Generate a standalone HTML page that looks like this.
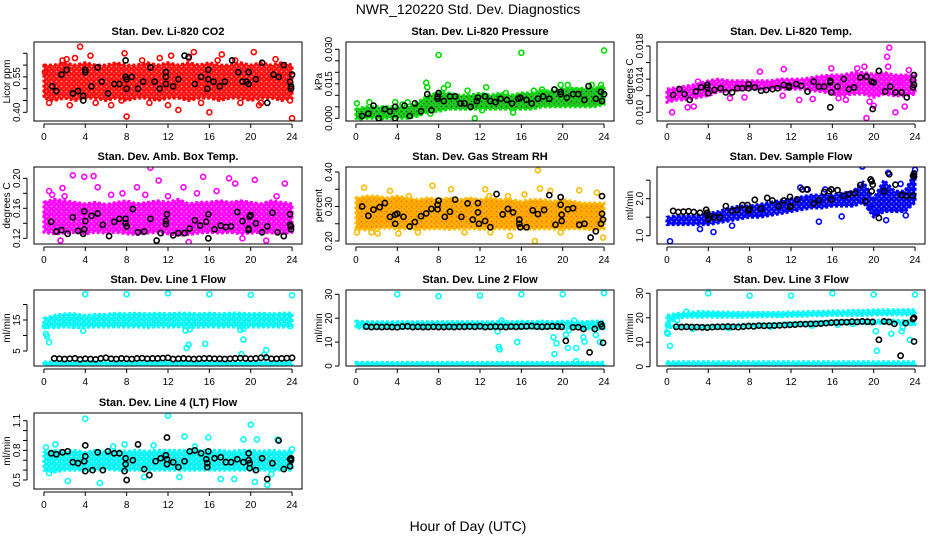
<!DOCTYPE html>
<html><head><meta charset="utf-8"><style>
body{margin:0;background:#fff;}
svg{display:block;font-family:"Liberation Sans",sans-serif;}
</style></head><body>
<svg id="chart" width="936" height="540" viewBox="0 0 936 540">
<rect x="0" y="0" width="936" height="540" fill="#fff"/>
<text x="468" y="14" text-anchor="middle" font-size="14">NWR_120220  Std. Dev. Diagnostics</text>
<text x="468" y="531" text-anchor="middle" font-size="14">Hour of Day (UTC)</text>
</svg>
<script>
const bandHours=[0,1,2,3,4,5,6,7,8,9,10,11,12,13,14,15,16,17,18,19,20,21,22,23,24];
const xTicks=[0,4,8,12,16,20,24];

// Panel 1: Li-820 CO2
const p1Lo=[0.46,0.45,0.46,0.45,0.46,0.46,0.45,0.46,0.45,0.46,0.46,0.45,0.46,0.46,0.45,0.46,0.46,0.45,0.46,0.46,0.45,0.46,0.46,0.45,0.46];
const p1Hi=[0.60,0.60,0.61,0.60,0.61,0.60,0.60,0.61,0.60,0.60,0.61,0.60,0.61,0.60,0.61,0.60,0.61,0.60,0.60,0.61,0.60,0.61,0.60,0.61,0.60];
const p1PtsX=[3.5,4.5,8,7.8,12.3,14.5,17.2,20.3,24,13,16,1.8,2.2,9.5,0.2,0.5,10.2,12,15.2,19,21,23.8,5,7.5,11.2,6.5,18.5,22.4,0.1,3,2.5,14,16.8,20.8];
const p1PtsY=[0.678,0.64,0.382,0.65,0.64,0.655,0.645,0.655,0.375,0.41,0.40,0.62,0.625,0.62,0.49,0.44,0.44,0.43,0.44,0.44,0.44,0.45,0.44,0.45,0.63,0.43,0.62,0.625,0.57,0.63,0.43,0.63,0.62,0.43];
const p1BlkX=[0.8,1.2,1.7,2.2,2.8,3.3,3.8,3.8,4,4,4.6,5.2,5.6,6.2,6.8,7.3,7.9,7.9,8,8,8.5,9.1,9.6,10.3,10.7,11.2,11.8,11.8,11.8,12.5,13,13.6,14,14.6,15.2,15.8,15.9,15.9,16.4,17,17.5,18.2,18.8,19.2,19.6,19.8,19.8,20.5,21.1,21.6,22.2,22.7,23.2,23.8,23.9,23.9,24];
const p1BlkY=[0.51,0.49,0.56,0.58,0.48,0.49,0.45,0.47,0.57,0.58,0.51,0.59,0.53,0.48,0.52,0.52,0.62,0.55,0.54,0.50,0.55,0.50,0.53,0.59,0.53,0.50,0.57,0.55,0.52,0.51,0.54,0.64,0.635,0.52,0.55,0.50,0.54,0.58,0.53,0.51,0.53,0.62,0.57,0.53,0.53,0.52,0.57,0.54,0.61,0.44,0.56,0.55,0.60,0.53,0.51,0.50,0.56];

// Panel 2: Pressure
const p2Lo=[0,0,0,0,0,0,0.001,0.003,0.003,0.004,0.004,0.004,0.004,0.004,0.004,0.004,0.004,0.004,0.005,0.005,0.005,0.005,0.005,0.005,0.006];
const p2Hi=[0.004,0.005,0.005,0.005,0.005,0.005,0.007,0.010,0.011,0.011,0.010,0.010,0.011,0.010,0.011,0.010,0.011,0.011,0.012,0.012,0.013,0.013,0.013,0.013,0.014];
const p2PtsX=[0.1,8,16,24,6.8,6.9,8.9,10.8,12.6,11.5,12.2,15.2,19.8,20.5,22.8,23.7,21.2,17.2,6.2,7.2,8.5,1.3,3.8,5,0.5,2.5,4.5,9,18,14.5];
const p2PtsY=[0.0065,0.0275,0.0285,0.0295,0.0155,0.0135,0.0145,0.012,0.0135,0,0.0035,0.0025,0.0145,0.0145,0.0145,0.0145,0.012,0.012,0.0025,0.002,0.013,0.007,0.007,0.007,0.0005,0.0005,0.006,0.009,0.0125,0.011];
const p2BlkX=[0.6,1.2,1.7,2.2,2.8,3.3,3.8,3.8,4.7,5.2,5.7,6.3,6.9,7.3,7.9,7.9,8.0,8.5,9.1,9.6,10.1,10.5,11.1,11.7,11.8,12.5,13,13.5,14,14.6,15.1,15.7,15.9,16.5,17.0,17.6,18.1,18.7,19.2,19.8,19.8,20.4,21,21.5,22.1,22.5,23.2,23.7,23.8,24];
const p2BlkY=[0.001,0.002,0.0055,0,0.004,0.003,0.005,0,0.0055,0.001,0.0065,0.003,0.0105,0.0035,0.0085,0.0095,0.011,0.0075,0.0095,0.0095,0.0065,0.0065,0.005,0.0075,0.009,0.0095,0.0075,0.007,0.0085,0.008,0.0065,0.0085,0.009,0.008,0.0065,0.0085,0.0095,0.0085,0.0125,0.0105,0.0115,0.009,0.0105,0.0105,0.008,0.014,0.0085,0.0115,0.0075,0.0105];

// Panel 3: Li-820 Temp
const p3Lo=[0.0112,0.0115,0.0115,0.0118,0.012,0.0125,0.0126,0.0127,0.0128,0.0128,0.0128,0.0128,0.0128,0.0128,0.0126,0.0125,0.0122,0.012,0.0122,0.0122,0.0118,0.0122,0.012,0.012,0.0122];
const p3Hi=[0.0128,0.013,0.0132,0.0134,0.0138,0.014,0.0138,0.0138,0.0138,0.0138,0.0138,0.014,0.014,0.014,0.0142,0.0144,0.0145,0.0145,0.0148,0.0148,0.0146,0.0148,0.0145,0.0145,0.0145];
const p3PtsX=[0.5,2,2.6,9,11.3,15.9,21.5,21.3,21.4,19.3,22.1,23,19.6,20,17.3,3,12.8,14.1,16.6,18.4,19.1,22.5,23.4,11.2,7.5,6.1];
const p3PtsY=[0.010,0.0106,0.0107,0.0149,0.0152,0.0153,0.0178,0.0167,0.0155,0.0093,0.0100,0.0107,0.0113,0.0108,0.0115,0.0137,0.0115,0.0116,0.0117,0.0153,0.0155,0.0138,0.0151,0.0120,0.0118,0.0117];
const p3BlkX=[0.6,1.2,1.7,2.2,2.8,3.3,3.9,3.9,4,4.6,5.2,5.7,6.3,6.8,7.3,7.9,7.9,8.5,9.1,9.6,10.2,10.7,11.3,11.8,11.8,12.5,13,13.6,14.2,14.7,15.2,15.8,15.8,15.9,15.8,16.5,17.1,17.6,18.1,18.7,19.3,19.8,19.9,20,20.5,21.1,21.6,22.1,22.7,23.2,23.8,23.8,23.9,23.9];
const p3BlkY=[0.0121,0.0128,0.0122,0.0115,0.0125,0.0130,0.0133,0.0130,0.0123,0.0127,0.0129,0.0124,0.0124,0.0129,0.0129,0.0129,0.0134,0.0130,0.0126,0.0127,0.0128,0.0129,0.0133,0.0132,0.0130,0.0134,0.0132,0.0125,0.0137,0.0131,0.0131,0.0136,0.0138,0.0124,0.0106,0.0131,0.0140,0.0128,0.0130,0.0142,0.0143,0.0137,0.0104,0.0136,0.0150,0.0125,0.0131,0.0124,0.0124,0.0118,0.0130,0.0139,0.0145,0.0133];

// Panel 4: Amb Box Temp
const p4Lo=[0.128,0.126,0.127,0.128,0.126,0.128,0.127,0.128,0.126,0.125,0.127,0.128,0.126,0.124,0.125,0.127,0.128,0.127,0.128,0.126,0.127,0.128,0.127,0.126,0.128];
const p4Hi=[0.168,0.172,0.170,0.168,0.166,0.168,0.165,0.168,0.170,0.166,0.168,0.170,0.168,0.172,0.166,0.168,0.168,0.170,0.168,0.170,0.168,0.166,0.170,0.168,0.166];
const p4PtsX=[2.8,3.9,4.8,10.3,11.1,15.4,17.9,20.4,23.3,5.2,9,13.5,18.5,0.5,1.8,1.6,12.9,14,21.5,19.2,0.2,7.6,16.7,22.5,2,12,0.8,6.5,9.8,14.8];
const p4PtsY=[0.204,0.202,0.203,0.214,0.197,0.202,0.200,0.198,0.193,0.188,0.188,0.188,0.193,0.183,0.187,0.117,0.128,0.115,0.117,0.120,0.150,0.180,0.183,0.176,0.176,0.176,0.178,0.178,0.178,0.180];
const p4BlkX=[0.7,1.2,1.7,2.3,2.8,3.3,3.8,3.9,3.9,4,4.6,5.2,5.7,6.3,6.8,7.3,7.9,7.9,8,8.6,9.1,9.7,10.3,10.9,11.3,11.8,11.8,11.9,12.5,13,13.6,14.1,14.6,15.1,15.7,15.9,15.9,16.5,17.1,17.6,18.1,18.7,19.2,19.8,19.8,19.9,20,20.5,21.1,21.6,22.1,22.6,23.2,23.8,23.8,23.9,23.9];
const p4BlkY=[0.142,0.129,0.131,0.126,0.148,0.130,0.126,0.132,0.156,0.143,0.150,0.153,0.138,0.123,0.142,0.146,0.146,0.140,0.136,0.159,0.128,0.129,0.146,0.117,0.127,0.143,0.139,0.152,0.124,0.127,0.127,0.133,0.144,0.137,0.142,0.120,0.152,0.132,0.137,0.135,0.136,0.155,0.143,0.131,0.133,0.149,0.151,0.140,0.128,0.136,0.154,0.128,0.123,0.152,0.138,0.132,0.136];

// Panel 5: Gas Stream RH
const p5Lo=[0.235,0.232,0.235,0.238,0.235,0.236,0.234,0.235,0.236,0.234,0.235,0.236,0.234,0.235,0.236,0.234,0.235,0.234,0.236,0.235,0.234,0.236,0.235,0.232,0.235];
const p5Hi=[0.325,0.33,0.33,0.325,0.33,0.325,0.32,0.325,0.32,0.325,0.32,0.325,0.32,0.325,0.32,0.32,0.315,0.32,0.32,0.315,0.32,0.315,0.31,0.31,0.31];
const p5PtsX=[0.1,0.8,2.1,3.3,4.1,7.4,9.2,12.5,17.6,17.3,17.8,18.8,21.6,23.9,14.9,23.3,1.5,6,10.5,13,19.8,12.9,5.1,14.7,16.3];
const p5PtsY=[0.225,0.355,0.222,0.345,0.222,0.36,0.35,0.35,0.405,0.20,0.352,0.345,0.347,0.21,0.215,0.34,0.225,0.225,0.225,0.225,0.225,0.33,0.33,0.33,0.335];
const p5BlkX=[0.6,1.2,1.7,2.3,2.8,3.3,3.8,3.8,4,4.6,5.2,5.7,6.3,6.8,7.3,7.9,7.9,8,8.6,9.1,9.6,10.2,10.8,11.3,11.8,11.8,11.9,12.5,13,13.6,14.2,14.7,15.2,15.8,15.8,15.9,16.5,17.1,17.6,18.2,18.7,19.3,19.8,19.8,19.9,19.9,20.5,21,21.6,22.1,22.7,23.2,23.8,23.8,23.7,23.9];
const p5BlkY=[0.30,0.273,0.291,0.298,0.31,0.27,0.25,0.276,0.279,0.27,0.242,0.255,0.272,0.28,0.293,0.305,0.292,0.317,0.27,0.285,0.32,0.27,0.309,0.262,0.283,0.31,0.25,0.258,0.24,0.336,0.277,0.293,0.283,0.262,0.25,0.24,0.24,0.289,0.278,0.29,0.333,0.247,0.327,0.305,0.276,0.258,0.292,0.295,0.247,0.25,0.21,0.228,0.33,0.279,0.25,0.262];

// Panel 6: Sample Flow
const p6Lo=[1.3,1.3,1.3,1.3,1.3,1.35,1.4,1.45,1.5,1.5,1.55,1.6,1.65,1.7,1.75,1.75,1.8,1.8,1.8,1.9,1.5,1.65,1.65,1.65,1.9];
const p6Hi=[1.5,1.55,1.55,1.55,1.6,1.65,1.75,1.8,1.8,1.85,1.9,1.95,2.0,2.05,2.1,2.1,2.1,2.15,2.2,2.45,2.0,2.5,2.2,2.2,2.7];
const p6PtsX=[0.3,14.7,16.9,19.6,21.2,18.9,21.4,22.6,24,4.5,3.2,6.3,12.9,13.5,15.3,20.3,23.1];
const p6PtsY=[0.85,1.38,1.52,1.75,1.42,2.87,2.7,2.4,2.78,1.1,1.18,1.27,2.3,2.25,2.25,1.6,1.55];
const p6BlkX=[0.6,1.1,1.6,2.1,2.6,3.2,3.8,3.9,4,4,4.6,5.1,5.7,6.3,6.8,7.3,7.8,7.9,8,8.5,9.1,9.7,10.2,10.8,11.3,11.9,11.9,12,12.6,13.1,13.6,14.2,14.7,15.2,15.7,15.9,15.9,16.5,17.1,17.6,18.2,18.7,19.2,19.7,19.8,19.8,19.9,20.5,21,21.5,22.1,22.7,23.2,23.8,23.8,23.9,23.9];
const p6BlkY=[1.67,1.64,1.65,1.66,1.64,1.62,1.7,1.62,1.45,1.55,1.5,1.5,1.8,1.67,1.7,1.83,1.83,1.68,1.72,1.97,1.73,2.02,1.95,1.8,1.95,2.05,1.78,1.8,1.98,2.25,2.25,1.87,1.96,2.18,2.2,2.25,1.98,2.23,2.08,2.12,2.15,2.37,1.93,2.52,2.47,2.2,2.38,1.48,2.2,2.66,2.38,2.1,2.07,2.08,2.62,2.68,2.6];

// Panel 7: Line 1 Flow
const p7Lo=[12.5,12.5,12.8,12.5,12.6,12.8,12.7,12.8,12.7,12.8,12.6,12.8,12.7,12.8,12.6,12.7,12.8,12.7,12.8,12.6,12.8,12.7,12.8,12.7,12.8];
const p7Hi=[15.5,16.5,17.0,17.0,16.5,16.8,16.8,17.2,17.0,17.2,17.0,17.2,17.0,17.2,17.2,17.0,17.2,17.0,17.2,17.2,17.0,17.2,17.0,17.2,17.2];
const p7LowLo=[0.4,0.4,0.4,0.4,0.4,0.4,0.4,0.4,0.4,0.4,0.4,0.4,0.4,0.4,0.4,0.4,0.4,0.4,0.4,0.4,0.4,0.4,0.4,0.4,0.4];
const p7LowHi=[1.5,1.5,1.5,1.5,1.5,1.5,1.5,1.5,1.5,1.5,1.5,1.5,1.5,1.5,1.5,1.5,1.5,1.5,1.5,1.5,1.5,1.5,1.5,1.5,1.5];
const p7PtsX=[0.1,0.2,0.3,0.5,3.8,4,8,12,16,20,24,13.7,13.8,14,15.6,19.3,19.1,21.3,21.5,19.3,19,23.8,14.1];
const p7PtsY=[13,10.5,9.8,7.8,11.5,23.3,23.3,23.6,23.3,23.1,23.0,11.6,6,7,7.3,8.7,4,3.8,5.3,12.2,11.8,13,12];
const p7BlkX=[1,1.5,2,2.5,3,3.5,4,4.5,5,5.5,6,6.5,7,7.5,8,8.5,9,9.5,10,10.5,11,11.5,12,12.5,13,13.5,14,14.5,15,15.5,16,16.5,17,17.5,18,18.5,19,19.5,20,20.5,21,21.5,22,22.5,23,23.5,24];
const p7BlkY=[2.6,2.5,2.4,2.5,2.6,2.3,2.5,2.4,2.3,2.6,2.8,2.5,2.4,2.6,2.5,2.4,2.6,2.7,2.5,2.6,2.6,2.7,2.8,2.4,2.5,2.6,2.5,2.4,2.5,2.6,2.6,2.5,2.5,2.4,2.5,2.6,2.7,2.6,2.5,2.6,2.8,2.9,2.5,2.5,2.6,2.7,2.8];

// Panel 8: Line 2 Flow
const p8Lo=[15.8,15.8,15.8,15.8,15.8,15.8,15.8,15.8,15.8,15.8,15.8,15.8,15.8,15.8,15.8,15.8,15.8,15.8,15.8,15.8,15.8,15.8,15.5,15.5,15.5];
const p8Hi=[18.8,18.5,18.5,18.5,18.5,18.5,18.5,18.5,18.5,18.5,18.5,18.5,18.5,18.5,18.5,18.5,18.8,18.5,18.8,18.5,18.8,18.5,18.5,18.8,18.8];
const p8LowLo=[0.3,0.3,0.3,0.3,0.3,0.3,0.3,0.3,0.3,0.3,0.3,0.3,0.3,0.3,0.3,0.3,0.3,0.3,0.3,0.3,0.3,0.3,0.3,0.3,0.3];
const p8LowHi=[1.5,1.5,1.5,1.5,1.5,1.5,1.5,1.5,1.5,1.5,1.5,1.5,1.5,1.5,1.5,1.5,1.5,1.5,1.5,1.5,1.5,1.5,1.5,1.5,1.5];
const p8PtsX=[4,8,12,16,20,24,13.8,13.9,15.6,13.7,14.1,19.1,19.2,19.4,20.3,20.5,21.3,21.1,22,22.1,23.2,23.6,21.3,20.6];
const p8PtsY=[30,29.2,29.5,30,30,30.5,8,7,10,14.5,19,12,5,9.5,13,7.5,7.5,19,12,10.2,13,10,2,15];
const p8BlkX=[1,1.5,2,2.5,3,3.5,4,4.5,5,5.5,6,6.5,7,7.5,8,8.5,9,9.5,10,10.5,11,11.5,12,12.5,13,13.5,14,14.5,15,15.5,16,16.5,17,17.5,18,18.5,19,19.5,19.9,20.3,21,21.5,22,22.6,23.1,23.7,23.8,23.9];
const p8BlkY=[16.5,16.3,16.4,16.3,16.4,16.3,16.2,16.5,16.6,16.3,16.4,16.3,16.3,16.4,16.3,16.3,16.4,16.3,16.4,16.4,16.5,16.4,16.6,16.3,16.4,16.5,16.4,16.3,16.5,16.4,16.5,16.6,16.7,16.5,16.4,16.5,16.6,16.5,16.4,10.5,16.2,16.2,15.5,5.7,15.5,17.5,16.5,9.7];

// Panel 9: Line 3 Flow
const p9Lo=[17,20,20.2,20.2,20.3,20.2,20.3,20.2,20.3,20.4,20.5,20.4,20.6,20.6,20.8,20.8,21,21,21,21,21.2,21.2,21.2,21.2,21.2];
const p9Hi=[21,21.8,22,22.5,22.5,22.3,22.3,22.2,22.2,22.2,22.2,22.2,22.4,22.4,22.6,22.6,22.8,22.8,23,23,23.2,23.2,23.3,23.3,23.3];
const p9MidLo=[16,16,15.8,15.6,15.6,15.7,15.8,15.9,16.1,16.2,16.4,16.5,16.6,16.8,17,17.2,17.3,17.4,17.5,17.6,17.5,17.8,17.6,17.4,17.2];
const p9MidHi=[16.6,16.8,16.8,16.8,16.8,16.9,17,17.2,17.4,17.5,17.6,17.8,17.9,18,18.2,18.4,18.7,18.8,18.9,19,18.8,19.2,19,18.8,18.6];
const p9LowLo=[0.6,0.6,0.6,0.6,0.6,0.6,0.6,0.6,0.6,0.6,0.6,0.6,0.6,0.6,0.6,0.6,0.6,0.6,0.6,0.6,0.6,0.6,0.6,0.6,0.6];
const p9LowHi=[2,2,2,2,2,2,2,2,2,2,2,2,2,2,2,2,2,2,2,2,2,2,2,2,2];
const p9PtsX=[0,0.1,0.3,4,8,12,16,20,24,1.9,20.2,20.3,21.7,22.7,22.8,23.5,23.7,0.1,1,2.5,6,10,14,16.5,18];
const p9PtsY=[14,13.5,8.5,30,29,29,30,29.5,29.5,22.5,14.5,6.5,13.5,14.5,16,11,18,17,19,15.5,15.8,16.3,16.8,17.2,17.5];
const p9BlkX=[0.9,1.4,1.9,2.4,2.9,3.4,3.9,4.4,4.9,5.4,5.9,6.4,6.9,7.4,7.9,8.4,8.9,9.4,9.9,10.4,10.9,11.4,11.9,12.4,12.9,13.4,13.9,14.4,14.9,15.4,15.9,16.4,16.9,17.4,17.9,18.4,18.9,19.4,19.9,20.5,21,21.5,22,22.6,23.1,23.8,23.9,23.9];
const p9BlkY=[16.3,16.2,16.3,16.2,16.2,16.1,16.0,16.2,16.3,16.3,16.4,16.3,16.2,16.4,16.6,16.5,16.8,16.7,16.8,16.8,16.9,17.0,17.1,17.2,17.4,17.4,17.5,17.5,17.6,17.8,18.0,18.1,18.2,18.2,18.4,18.3,18.5,18.4,18.3,11,18.5,18.3,17.5,4.5,17.8,19.5,20,10.3];

// Panel 10: Line 4 (LT) Flow
const p10Lo=[0.6,0.58,0.6,0.6,0.6,0.6,0.61,0.6,0.6,0.6,0.6,0.6,0.6,0.6,0.6,0.6,0.6,0.6,0.6,0.6,0.6,0.6,0.6,0.6,0.6];
const p10Hi=[0.78,0.8,0.79,0.8,0.78,0.8,0.79,0.8,0.79,0.8,0.79,0.8,0.8,0.8,0.8,0.8,0.8,0.8,0.79,0.8,0.8,0.79,0.8,0.79,0.8];
const p10PtsX=[4,12,20,1.1,7.8,13.6,15.9,19.3,20.6,22.6,2.3,5.4,20.4,21.6,17.1,18.4,9.7,13.1,0.2,24,0.5,6.7,10.6,14.6,22];
const p10PtsY=[1.12,1.15,1.06,0.86,0.86,0.94,0.93,0.91,0.91,0.91,0.49,0.47,0.48,0.45,0.51,0.51,0.53,0.53,0.83,0.81,0.57,0.84,0.85,0.84,0.56];
const p10BlkX=[0.7,1.2,1.8,2.3,2.8,3.3,3.9,4,4,4,4.7,5.2,5.7,6.2,6.8,7.3,7.9,7.9,7.8,8,8.6,9.1,9.7,10.2,10.8,11.3,11.8,11.9,11.9,11.9,12.5,13,13.6,14.1,14.6,15.2,15.7,15.8,15.8,15.9,16.5,17.1,17.6,18.1,18.7,19.3,19.8,19.8,19.9,19.9,20.5,21.1,21.6,22.1,22.7,23.2,23.8,23.8,23.9,23.9];
const p10BlkY=[0.77,0.76,0.78,0.79,0.68,0.67,0.69,0.85,0.74,0.59,0.6,0.78,0.6,0.79,0.77,0.77,0.72,0.66,0.59,0.5,0.7,0.86,0.61,0.55,0.69,0.72,0.75,0.71,0.66,0.93,0.68,0.63,0.69,0.79,0.8,0.77,0.71,0.67,0.63,0.79,0.72,0.73,0.68,0.68,0.71,0.68,0.77,0.7,0.67,0.62,0.6,0.72,0.51,0.67,0.9,0.61,0.64,0.71,0.72,0.7];

const NS='http://www.w3.org/2000/svg';
const svg=document.getElementById('chart');
function mk(tag,attrs,parent){const e=document.createElementNS(NS,tag);for(const k in attrs)e.setAttribute(k,attrs[k]);(parent||svg).appendChild(e);return e;}
const defs=mk('defs',{});

const panels=[
 {slug:'li820-co2',title:'Stan. Dev. Li-820 CO2',ylab:'Licor ppm',col:0,row:0,v1:0.40,p1:112.3,v2:0.65,p2:53.3,ticks:[0.40,0.45,0.50,0.55,0.60,0.65],labels:['0.40','','','0.55','',''],color:'#ff0000',fill:'#ff1010',speck:'#ffffff',bands:[[p1Lo,p1Hi]],px:p1PtsX,py:p1PtsY,bx:p1BlkX,by:p1BlkY},
 {slug:'li820-pressure',title:'Stan. Dev. Li-820 Pressure',ylab:'kPa',col:1,row:0,v1:0,p1:118.3,v2:0.030,p2:49.3,ticks:[0,0.005,0.010,0.015,0.020,0.025,0.030],labels:['0.000','','','0.015','','','0.030'],color:'#00dd00',fill:'#22cc22',speck:'#000000',bands:[[p2Lo,p2Hi]],px:p2PtsX,py:p2PtsY,bx:p2BlkX,by:p2BlkY},
 {slug:'li820-temp',title:'Stan. Dev. Li-820 Temp.',ylab:'degrees C',col:2,row:0,v1:0.010,p1:112.3,v2:0.018,p2:46,ticks:[0.010,0.012,0.014,0.016,0.018],labels:['0.010','','0.014','','0.018'],color:'#ff00ff',fill:'#ff00ff',speck:'#ffffff',bands:[[p3Lo,p3Hi]],px:p3PtsX,py:p3PtsY,bx:p3BlkX,by:p3BlkY},
 {slug:'amb-box-temp',title:'Stan. Dev. Amb. Box Temp.',ylab:'degrees C',col:0,row:1,v1:0.12,p1:238.3,v2:0.20,p2:178.3,ticks:[0.12,0.14,0.16,0.18,0.20],labels:['0.12','','0.16','','0.20'],color:'#ff00ff',fill:'#ff00ff',speck:'#ffffff',bands:[[p4Lo,p4Hi]],px:p4PtsX,py:p4PtsY,bx:p4BlkX,by:p4BlkY},
 {slug:'gas-stream-rh',title:'Stan. Dev. Gas Stream RH',ylab:'percent',col:1,row:1,v1:0.20,p1:241,v2:0.40,p2:172,ticks:[0.20,0.25,0.30,0.35,0.40],labels:['0.20','','0.30','','0.40'],color:'#ffbb00',fill:'#ffb000',speck:'#ff2000',bands:[[p5Lo,p5Hi]],px:p5PtsX,py:p5PtsY,bx:p5BlkX,by:p5BlkY},
 {slug:'sample-flow',title:'Stan. Dev. Sample Flow',ylab:'ml/min',col:2,row:1,v1:1.0,p1:235.7,v2:2.0,p2:198.7,ticks:[1.0,1.5,2.0,2.5],labels:['1.0','','2.0',''],color:'#0000ff',fill:'#0000ee',speck:'#ffffff',bands:[[p6Lo,p6Hi]],px:p6PtsX,py:p6PtsY,bx:p6BlkX,by:p6BlkY},
 {slug:'line1-flow',title:'Stan. Dev. Line 1 Flow',ylab:'ml/min',col:0,row:2,v1:5,p1:351,v2:15,p2:320,ticks:[5,10,15,20],labels:['5','','15',''],color:'#00ffff',fill:'#00f4f4',speck:'#ffffff',bands:[[p7Lo,p7Hi],[p7LowLo,p7LowHi]],px:p7PtsX,py:p7PtsY,bx:p7BlkX,by:p7BlkY},
 {slug:'line2-flow',title:'Stan. Dev. Line 2 Flow',ylab:'ml/min',col:1,row:2,v1:0,p1:366,v2:30,p2:294.3,ticks:[0,10,20,30],labels:['0','10','20','30'],color:'#00ffff',fill:'#00f4f4',speck:'#ffffff',bands:[[p8Lo,p8Hi],[p8LowLo,p8LowHi]],px:p8PtsX,py:p8PtsY,bx:p8BlkX,by:p8BlkY},
 {slug:'line3-flow',title:'Stan. Dev. Line 3 Flow',ylab:'ml/min',col:2,row:2,v1:0,p1:366.7,v2:30,p2:293.3,ticks:[0,10,20,30],labels:['0','10','20','30'],color:'#00ffff',fill:'#00f4f4',speck:'#ffffff',bands:[[p9Lo,p9Hi],[p9MidLo,p9MidHi],[p9LowLo,p9LowHi]],px:p9PtsX,py:p9PtsY,bx:p9BlkX,by:p9BlkY},
 {slug:'line4-flow',title:'Stan. Dev. Line 4 (LT) Flow',ylab:'ml/min',col:0,row:3,v1:0.5,p1:480,v2:1.1,p2:420.7,ticks:[0.5,0.6,0.7,0.8,0.9,1.0,1.1],labels:['0.5','','','0.8','','','1.1'],color:'#00ffff',fill:'#00f4f4',speck:'#ffffff',bands:[[p10Lo,p10Hi]],px:p10PtsX,py:p10PtsY,bx:p10BlkX,by:p10BlkY}
];
const colLeft=[34,346,657], boxW=268;
const rowTop=[42,167,290,413], rowBot=[121,244,366,489];

panels.forEach(p=>{
  const L=colLeft[p.col], R=L+boxW, T=rowTop[p.row], B=rowBot[p.row];
  const xs=h=>L+(h+0.96)/25.92*boxW;
  const ys=v=>p.p1+(v-p.v1)*(p.p2-p.p1)/(p.v2-p.v1);
  const pid='pat-'+p.slug;
  const pat=mk('pattern',{id:pid,width:5,height:5,patternUnits:'userSpaceOnUse'},defs);
  mk('rect',{x:0,y:0,width:5,height:5,fill:p.fill},pat);
  mk('circle',{cx:1.5,cy:1.5,r:0.9,fill:p.speck,'fill-opacity':0.55},pat);
  mk('circle',{cx:4,cy:3.8,r:0.7,fill:p.speck,'fill-opacity':0.45},pat);
  const g=mk('g',{});
  
  
  const cid='clip-'+p.slug;
  const cp=mk('clipPath',{id:cid},g); mk('rect',{x:L,y:T,width:boxW,height:B-T},cp);
  const title=mk('text',{x:(L+R)/2,y:T-7,'text-anchor':'middle','font-size':11,'font-weight':'bold'},g);
  title.textContent=p.title;
  
  
  const yl=mk('text',{x:0,y:0,'text-anchor':'middle','font-size':10,transform:`translate(${L-24},${(T+B)/2}) rotate(-90)`},g);
  yl.textContent=p.ylab;
  
  
  const plot=mk('g',{'clip-path':`url(#${cid})`},g);
  
  
  p.bands.forEach((b,bi)=>{
    const lo=b[0], hi=b[1];
    let pts=bandHours.map((h,i)=>xs(h)+','+ys(hi[i]));
    pts=pts.concat(bandHours.slice().reverse().map((h,k)=>{const i=bandHours.length-1-k;return xs(h)+','+ys(lo[i]);}));
    const poly=mk('polygon',{points:pts.join(' '),fill:`url(#${pid})`,stroke:p.color,'stroke-width':3,'stroke-linejoin':'round','stroke-dasharray':'3 2'},plot);
    
    
  });
  p.px.forEach((x,i)=>{
    const c=mk('circle',{cx:xs(x),cy:ys(p.py[i]),r:2.5,fill:'none',stroke:p.color,'stroke-width':1.6},plot);
    
    
  });
  p.bx.forEach((x,i)=>{
    const c=mk('circle',{cx:xs(x),cy:ys(p.by[i]),r:2.6,fill:'none',stroke:'#000','stroke-width':1.6},plot);
    
    
  });
  const box=mk('rect',{x:L,y:T,width:boxW,height:B-T,fill:'none',stroke:'#000','stroke-width':1},g);
  
  
  const ya=mk('g',{},g);
  
  
  mk('line',{x1:L-7,x2:L-7,y1:ys(p.ticks[0]),y2:ys(p.ticks[p.ticks.length-1]),stroke:'#000'},ya);
  p.ticks.forEach((t,i)=>{
    mk('line',{x1:L-11,x2:L-7,y1:ys(t),y2:ys(t),stroke:'#000'},ya);
    if(p.labels[i]){
      const tl=mk('text',{x:0,y:0,'text-anchor':'middle','font-size':10,transform:`translate(${L-14},${ys(t)}) rotate(-90)`},ya);
      tl.textContent=p.labels[i];
    }
  });
  const xa=mk('g',{},g);
  
  
  mk('line',{x1:xs(0),x2:xs(24),y1:B+3,y2:B+3,stroke:'#000'},xa);
  xTicks.forEach(t=>{
    mk('line',{x1:xs(t),x2:xs(t),y1:B+3,y2:B+7,stroke:'#000'},xa);
    const tl=mk('text',{x:xs(t),y:B+19,'text-anchor':'middle','font-size':10},xa);
    tl.textContent=t;
  });
});
</script>
</body></html>
